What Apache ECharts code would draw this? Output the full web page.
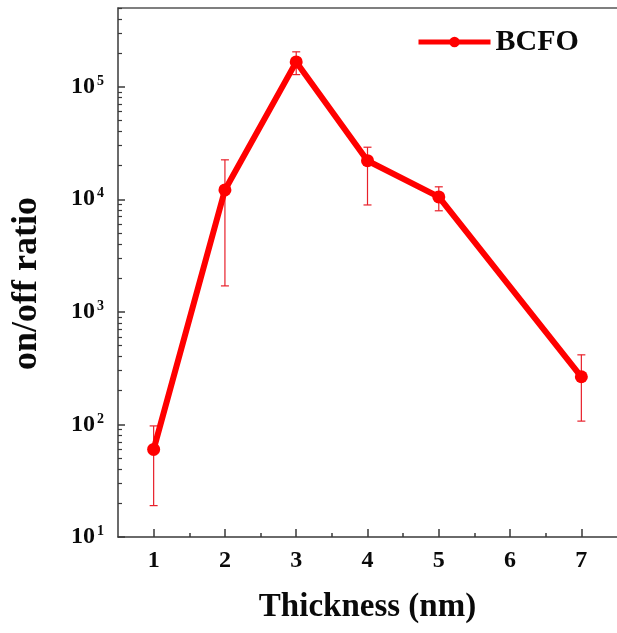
<!DOCTYPE html>
<html>
<head>
<meta charset="utf-8">
<script src="https://cdn.jsdelivr.net/npm/echarts@6/dist/echarts.min.js"></script>
<style>
  html, body { margin: 0; padding: 0; background: #fff; }
  #chart { width: 617px; height: 633px; }
</style>
</head>
<body>
<div id="chart"></div>
<script>
// Film thickness (nm) and measured on/off ratio with error ranges
const thickness = [1, 2, 3, 4, 5, 7];
const onOffRatio = [60, 12100, 166000, 22000, 10500, 265];
const errHigh = [97, 22400, 204000, 29000, 12900, 415];
const errLow = [19, 1700, 128000, 8900, 7900, 107];

// Axis ticks
const xTicks = [1, 2, 3, 4, 5, 6, 7];
const xMinorTicks = [1.5, 2.5, 3.5, 4.5, 5.5, 6.5];
const yTicks = [10, 100, 1000, 10000, 100000];
const yMin = 10, yMax = 500000;

const yMinorTicks = [];
for (let p = 10; p < yMax; p *= 10) {
  for (let m = 2; m <= 9; m++) {
    if (m * p <= yMax) yMinorTicks.push(m * p);
  }
}

const serif = '"Liberation Serif", "Times New Roman", serif';
const red = '#ff0000';
const axisColor = '#3a3a3a';
const textColor = '#0a0a0a';

const chart = echarts.init(document.getElementById('chart'), null, { renderer: 'canvas' });

const option = {
  backgroundColor: '#fff',
  animation: false,
  grid: { left: 118, top: 8, right: -3, bottom: 96 },
  legend: {
    data: ['BCFO'],
    left: 411, top: 22,
    itemWidth: 72, itemHeight: 13, itemGap: 4,
    lineStyle: { width: 5 },
    textStyle: { fontFamily: serif, fontWeight: 'bold', fontSize: 30, color: textColor }
  },
  xAxis: [
    {
      type: 'value', min: 0.5, max: 7.5,
      name: 'Thickness (nm)', nameLocation: 'middle', nameGap: 54,
      nameTextStyle: { fontFamily: serif, fontWeight: 'bold', fontSize: 33, color: textColor },
      axisLine: { show: true, lineStyle: { color: axisColor, width: 1.5 } },
      axisTick: { show: true, inside: true, length: 8, customValues: xTicks,
                  lineStyle: { color: axisColor, width: 1.5 } },
      axisLabel: { customValues: xTicks, margin: 12,
                   fontFamily: serif, fontWeight: 'bold', fontSize: 24, color: textColor },
      splitLine: { show: false }
    },
    {
      type: 'value', min: 0.5, max: 7.5, position: 'bottom',
      axisLine: { show: false },
      axisTick: { show: true, inside: true, length: 4, customValues: xMinorTicks,
                  lineStyle: { color: axisColor, width: 1.5 } },
      axisLabel: { show: false },
      splitLine: { show: false }
    },
    {
      // top frame line
      type: 'value', min: 0.5, max: 7.5, position: 'top',
      axisLine: { show: true, lineStyle: { color: '#555', width: 1.5 } },
      axisTick: { show: false },
      axisLabel: { show: false },
      splitLine: { show: false }
    }
  ],
  yAxis: [
    {
      type: 'log', logBase: 10, min: yMin, max: yMax,
      name: 'on/off ratio', nameLocation: 'middle', nameGap: 73,
      nameTextStyle: { fontFamily: serif, fontWeight: 'bold', fontSize: 36, color: textColor,
                       padding: [0, 22, 0, 0] },
      axisLine: { show: true, lineStyle: { color: axisColor, width: 1.5 } },
      axisTick: { show: true, inside: true, length: 7, customValues: yTicks,
                  lineStyle: { color: axisColor, width: 1.5 } },
      axisLabel: {
        customValues: yTicks, margin: 14,
        formatter: function (v) {
          return '{b|10}{s|' + Math.round(Math.log10(v)) + '}';
        },
        rich: {
          b: { fontFamily: serif, fontWeight: 'bold', fontSize: 24, color: textColor },
          s: { fontFamily: serif, fontWeight: 'bold', fontSize: 14, color: textColor,
               verticalAlign: 'bottom', padding: [0, 0, 11, 2] }
        }
      },
      splitLine: { show: false }
    },
    {
      type: 'log', logBase: 10, min: yMin, max: yMax, position: 'left',
      axisLine: { show: false },
      axisTick: { show: true, inside: true, length: 4, customValues: yMinorTicks,
                  lineStyle: { color: axisColor, width: 1.2 } },
      axisLabel: { show: false },
      splitLine: { show: false }
    }
  ],
  series: [
    {
      name: 'errors',
      type: 'custom',
      z: 1,
      silent: true,
      data: thickness.map((t, i) => [t, errLow[i], errHigh[i]]),
      renderItem: function (params, api) {
        const x = api.value(0);
        const lo = api.coord([x, api.value(1)]);
        const hi = api.coord([x, api.value(2)]);
        const half = 4;
        const style = { stroke: '#e8202a', lineWidth: 1.2 };
        return {
          type: 'group',
          children: [
            { type: 'line', shape: { x1: lo[0], y1: lo[1], x2: hi[0], y2: hi[1] }, style: style },
            { type: 'line', shape: { x1: lo[0] - half, y1: lo[1], x2: lo[0] + half, y2: lo[1] }, style: style },
            { type: 'line', shape: { x1: hi[0] - half, y1: hi[1], x2: hi[0] + half, y2: hi[1] }, style: style }
          ]
        };
      }
    },
    {
      name: 'BCFO',
      type: 'line',
      z: 3,
      data: thickness.map((t, i) => [t, onOffRatio[i]]),
      symbol: 'circle',
      symbolSize: 13,
      lineStyle: { color: red, width: 6 },
      itemStyle: { color: red },
      emphasis: { disabled: true }
    }
  ]
};

chart.setOption(option);
</script>
</body>
</html>
